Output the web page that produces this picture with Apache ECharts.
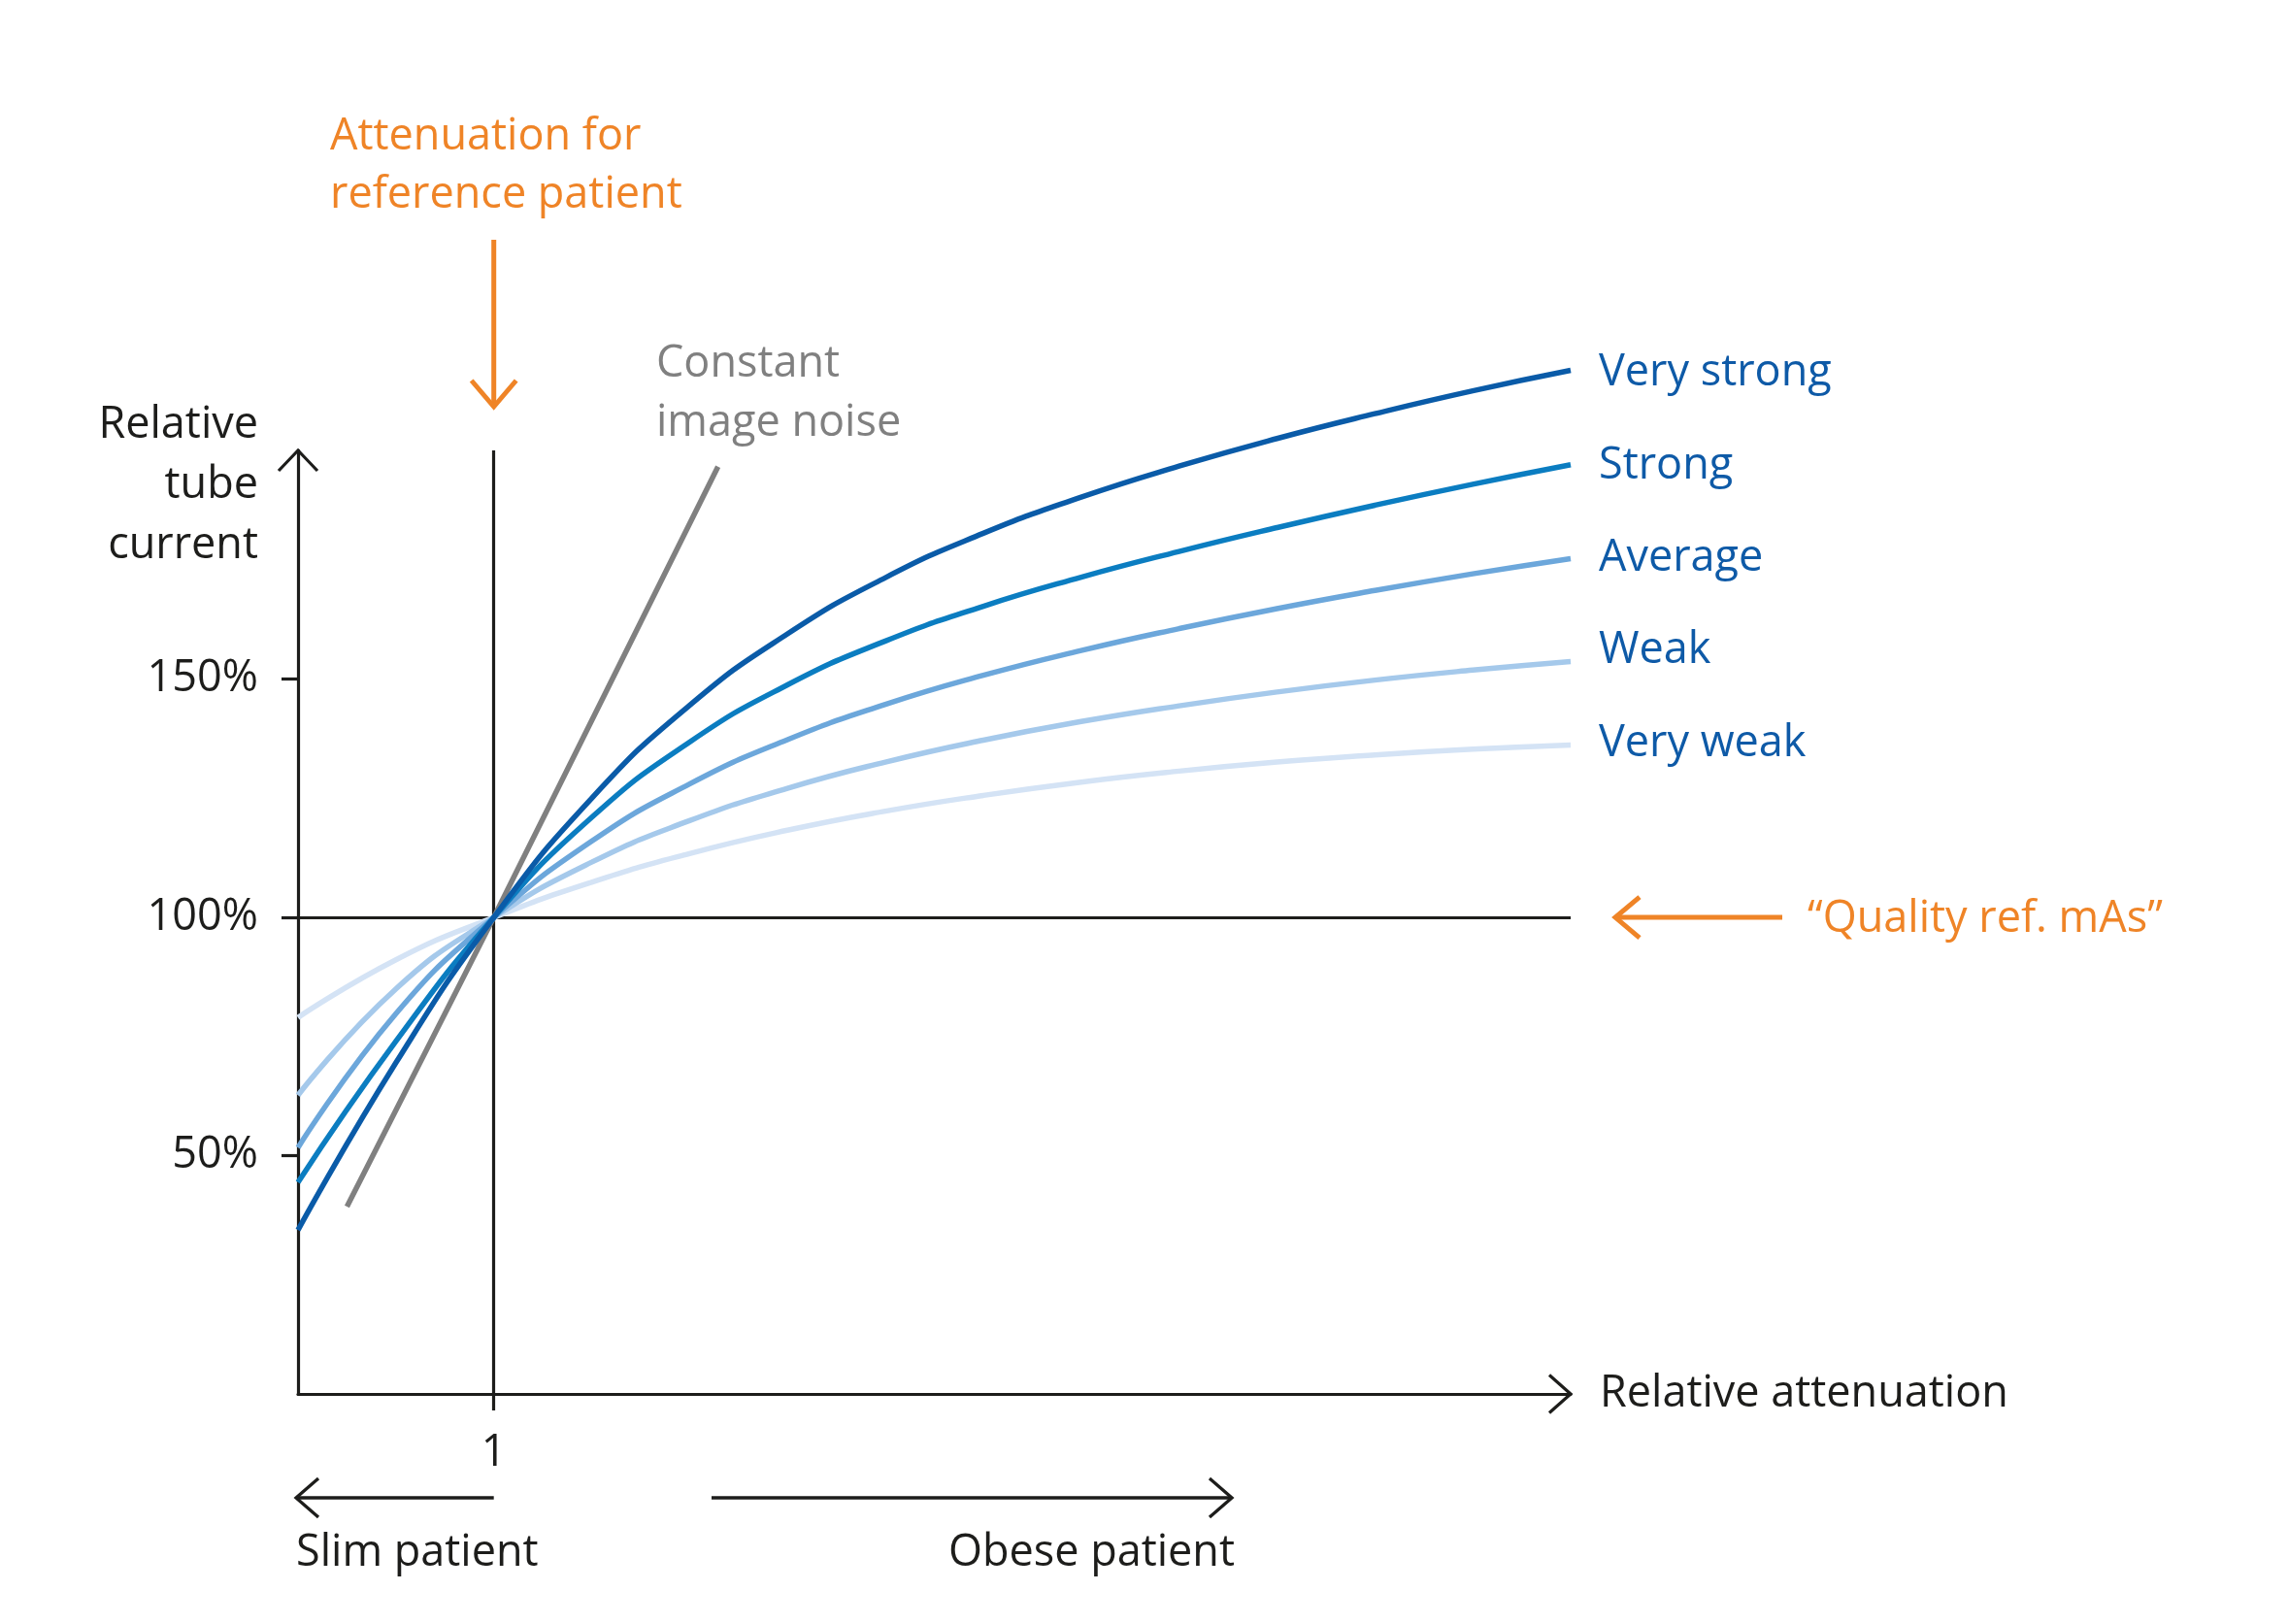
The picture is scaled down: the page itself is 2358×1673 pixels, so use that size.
<!DOCTYPE html>
<html>
<head>
<meta charset="utf-8">
<script src="https://cdn.jsdelivr.net/npm/echarts@6/dist/echarts.min.js"></script>
<style>
  html, body { margin: 0; padding: 0; background: #ffffff; }
  #chart { width: 2358px; height: 1673px; }
</style>
</head>
<body>
<div id="chart"></div>
<script>
// ---------------- data ----------------
const attenuation = [0, 0.5, 1, 1.5, 2, 2.5, 3, 3.5, 4, 4.5, 5, 5.5, 6, 6.5];
const veryStrong = [34.4, 69.5, 100, 125.0, 144.5, 159.5, 171.3, 180.6, 188.2, 194.7, 200.5, 205.7, 210.5, 214.8];
const strong     = [44.4, 74.0, 100, 121.0, 136.8, 148.8, 158.0, 165.3, 171.4, 176.8, 181.8, 186.5, 190.9, 195.0];
const average    = [51.7, 79.8, 100, 116.0, 128.0, 137.3, 144.7, 150.8, 156.0, 160.6, 164.8, 168.6, 172.1, 175.3];
const weak       = [62.7, 85.0, 100, 111.6, 120.3, 127.1, 132.6, 137.2, 141.1, 144.4, 147.3, 149.8, 151.9, 153.7];
const veryWeak   = [79.0, 91.1, 100, 107.4, 113.4, 118.3, 122.3, 125.6, 128.4, 130.7, 132.6, 134.1, 135.3, 136.2];
const noiseX = [0.25, 1, 2.145];
const noiseY = [39.3, 100, 194.6];
const seriesNames = ['Very strong', 'Strong', 'Average', 'Weak', 'Very weak'];
const yTickValues = [50, 100, 150];
const xTickValues = [1];
const referenceAttenuation = 1;
const referenceCurrent = 100;
const X_MAX = 6.5;
const Y_MAX = 198;

// ---------------- styles ----------------
const FONT = "'Open Sans', 'Noto Sans', 'DejaVu Sans', sans-serif";
const FS = 45;
const BLACK = '#1d1d1b';
const ORANGE = '#EF8427';
const GRAY = '#808080';
const LABEL_BLUE = '#0E5AA7';
const curveColors = ['#0A5BA8', '#0B7DC1', '#6CA7DB', '#A5C9EB', '#D4E3F5'];
const labelOffsets = [[0, 3], [0, 1], [0, 0], [0, -11], [0, -1]];

function pairs(xs, ys) { return xs.map((x, i) => [x, ys[i]]); }
const curveData = [veryStrong, strong, average, weak, veryWeak];

const chart = echarts.init(document.getElementById('chart'), null, { renderer: 'canvas' });

const curveSeries = [];
for (let i = curveData.length - 1; i >= 0; i--) {
  curveSeries.push({
    name: seriesNames[i],
    type: 'line',
    data: pairs(attenuation, curveData[i]),
    smooth: 0.5,
    showSymbol: false,
    clip: false,
    z: 10 + (curveData.length - i),
    lineStyle: { color: curveColors[i], width: 5.5, cap: 'butt' },
    endLabel: {
      show: true,
      formatter: seriesNames[i],
      color: LABEL_BLUE,
      fontSize: FS,
      fontFamily: FONT,
      distance: 29,
      offset: labelOffsets[i]
    },
    emphasis: { disabled: true }
  });
}

const option = {
  animation: false,
  backgroundColor: '#ffffff',
  grid: { left: 307, top: 464, right: 740, bottom: 237, outerBoundsMode: 'none', containLabel: false },
  xAxis: {
    type: 'value',
    min: 0,
    max: X_MAX,
    splitLine: { show: false },
    axisLine: { show: true, onZero: false, lineStyle: { color: BLACK, width: 3.2 } },
    axisTick: { show: true, customValues: xTickValues, length: 17, lineStyle: { color: BLACK, width: 3.2 } },
    axisLabel: { show: true, customValues: xTickValues, formatter: v => String(v), fontSize: FS, fontFamily: FONT, color: BLACK, margin: 39 },
    name: 'Relative attenuation',
    nameLocation: 'end',
    nameGap: 30,
    nameTextStyle: { fontSize: FS, fontFamily: FONT, color: BLACK, verticalAlign: 'middle', align: 'left' }
  },
  yAxis: {
    type: 'value',
    min: 0,
    max: Y_MAX,
    interval: 50,
    splitLine: { show: false },
    axisLine: { show: true, onZero: false, lineStyle: { color: BLACK, width: 3.2 } },
    axisTick: { show: true, customValues: yTickValues, length: 17, lineStyle: { color: BLACK, width: 3.2 } },
    axisLabel: { show: true, customValues: yTickValues, formatter: v => v + '%', fontSize: FS, fontFamily: FONT, color: BLACK, margin: 41 }
  },
  series: [
    {
      name: 'Constant image noise',
      type: 'line',
      data: pairs(noiseX, noiseY),
      smooth: false,
      showSymbol: false,
      clip: false,
      z: 5,
      lineStyle: { color: GRAY, width: 5.5, cap: 'butt' },
      emphasis: { disabled: true },
      markLine: {
        silent: true,
        symbol: ['none', 'none'],
        label: { show: false },
        lineStyle: { color: BLACK, width: 3.2, type: 'solid' },
        emphasis: { disabled: true },
        data: [{ xAxis: referenceAttenuation }, { yAxis: referenceCurrent }]
      }
    }
  ].concat(curveSeries)
};

chart.setOption(option);

// ---------------- annotations ----------------
const yTop = chart.convertToPixel({ gridIndex: 0 }, [0, Y_MAX]);
const xEnd = chart.convertToPixel({ gridIndex: 0 }, [X_MAX, 0]);
const refPt = chart.convertToPixel({ gridIndex: 0 }, [referenceAttenuation, referenceCurrent]);

function poly(points, color, width) {
  return { type: 'polyline', silent: true, z: 100, shape: { points: points }, style: { stroke: color, lineWidth: width, fill: null, lineJoin: 'miter', lineCap: 'butt' } };
}
function txt(text, x, y, color, align) {
  return { type: 'text', silent: true, z: 100, style: { text: text, x: x, y: y, fill: color, fontSize: FS, fontFamily: FONT, align: align, verticalAlign: 'middle' } };
}

const g = [];
// y-axis arrow
g.push(poly([[yTop[0] - 20, yTop[1] + 21], [yTop[0], yTop[1]], [yTop[0] + 20, yTop[1] + 21]], BLACK, 3.2));
// x-axis arrow
g.push(poly([[xEnd[0] - 22, xEnd[1] - 19.5], [xEnd[0], xEnd[1]], [xEnd[0] - 22, xEnd[1] + 19.5]], BLACK, 3.2));
// y-axis title
g.push({ type: 'text', silent: true, z: 100, style: { text: 'Relative\ntube\ncurrent', x: 266, y: 407, fill: BLACK, fontSize: FS, fontFamily: FONT, align: 'right', verticalAlign: 'top', lineHeight: 62 } });
// orange reference arrow (down)
const ax = refPt[0];
g.push(poly([[ax, 247], [ax, 418]], ORANGE, 5));
g.push(poly([[ax - 23, 392], [ax, 419], [ax + 23, 392]], ORANGE, 5));
g.push({ type: 'text', silent: true, z: 100, style: { text: 'Attenuation for\nreference patient', x: 340, y: 111, fill: ORANGE, fontSize: FS, fontFamily: FONT, align: 'left', verticalAlign: 'top', lineHeight: 60 } });
// constant image noise label
g.push({ type: 'text', silent: true, z: 100, style: { text: 'Constant\nimage noise', x: 676, y: 345, fill: GRAY, fontSize: FS, fontFamily: FONT, align: 'left', verticalAlign: 'top', lineHeight: 61 } });
// Quality ref arrow (left)
const qy = refPt[1];
g.push(poly([[1665, qy], [1836, qy]], ORANGE, 5));
g.push(poly([[1689, qy - 21], [1664, qy], [1689, qy + 21]], ORANGE, 5));
g.push(txt('\u201CQuality ref. mAs\u201D', 1862, qy + 2, ORANGE, 'left'));
// bottom arrows
const by = 1543;
g.push(poly([[ax, by], [306, by]], BLACK, 3.3));
g.push(poly([[328, by - 20], [305, by], [328, by + 20]], BLACK, 3.3));
g.push(poly([[733, by], [1268, by]], BLACK, 3.3));
g.push(poly([[1246, by - 20], [1269, by], [1246, by + 20]], BLACK, 3.3));
g.push(txt('Slim patient', 305, 1600, BLACK, 'left'));
g.push(txt('Obese patient', 1272, 1600, BLACK, 'right'));

chart.setOption({ graphic: g });
</script>
</body>
</html>
